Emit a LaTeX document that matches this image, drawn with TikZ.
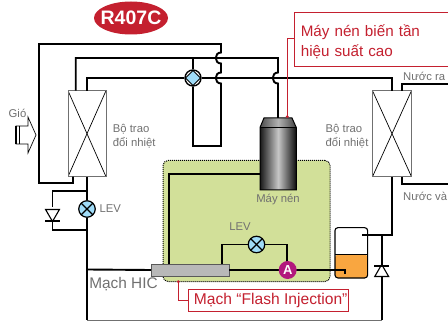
\documentclass[tikz,border=0pt]{standalone}
\usepackage{fontspec}
\setmainfont{Liberation Sans}
\usepackage{xcolor}
\usetikzlibrary{positioning, shapes.geometric, calc, backgrounds}
\definecolor{labelgray}{RGB}{112, 112, 112}
\definecolor{boxred}{RGB}{196, 32, 47}
\definecolor{valveblue}{RGB}{160, 220, 248}
\definecolor{hicgreen}{RGB}{210, 224, 153}
\definecolor{tankorange}{RGB}{249, 166, 64}
\definecolor{pointmag}{RGB}{178, 24, 125}
\tikzset{
    pipe/.style={line width=1.9pt, draw=black, line join=miter},
    hexch/.style={draw=labelgray, line width=0.9pt, minimum width=38pt, minimum height=86pt, inner sep=0pt, outer sep=0pt, path picture={
        \draw[black, line width=0.7pt] (path picture bounding box.north west) -- (path picture bounding box.south east);
        \draw[black, line width=0.7pt] (path picture bounding box.north east) -- (path picture bounding box.south west);
    }},
    lev/.style={circle, draw=black, line width=1.2pt, fill=valveblue, minimum size=16.5pt, inner sep=0pt, path picture={
        \draw[black, line width=1.2pt] (path picture bounding box.north west) -- (path picture bounding box.south east);
        \draw[black, line width=1.2pt] (path picture bounding box.north east) -- (path picture bounding box.south west);
    }},
    fourway/.style={circle, draw=black, line width=1.4pt, fill=white, minimum size=16pt, inner sep=0pt, path picture={
        \draw[black, line width=0.8pt, fill=valveblue] (path picture bounding box.center) ++(-7.5pt,0) -- ++(7.5pt,7.5pt) -- ++(7.5pt,-7.5pt) -- ++(-7.5pt,-7.5pt) -- cycle;
    }},
    checkv/.style={isosceles triangle, isosceles triangle apex angle=60, draw=black, line width=1.1pt, fill=white, minimum height=12pt, inner sep=0pt, outer sep=0pt},
    txt/.style={text=labelgray, font=\fontsize{11.3}{14}\selectfont, inner sep=0pt, align=left},
    callout/.style={draw=boxred, line width=0.9pt, text=boxred, font=\fontsize{15.2}{20}\selectfont, inner sep=0pt, align=left},
    leader/.style={draw=boxred, line width=0.9pt}
}
\begin{document}
\begin{tikzpicture}[x=1pt, y=-1pt]
\useasboundingbox (0,0) rectangle (448,321);

% Background
\node[draw=black, densely dotted, line width=1pt, fill=hicgreen, rounded corners=5pt, minimum width=167pt, minimum height=121pt, inner sep=0pt] (hiczone) at (246.5,221) {};

% Nodes
\node[ellipse, fill=boxred, minimum width=74pt, minimum height=33pt, inner xsep=-4.5pt, inner ysep=0pt, text=white, font=\fontsize{19.5}{19.5}\selectfont\bfseries] (refrigerant) at (131,18) {R407C};
\node[hexch] (hxleft) at (87,133.7) {};
\node[hexch, minimum width=39pt] (hxright) at (392,133.7) {};
\node[fourway] (fourvalve) at (193,78) {};
\node[lev] (levleft) at (87,209) {};
\node[lev] (levhic) at (256.5,244.5) {};
\node[checkv, shape border rotate=270] (checkleft) at (52.5,213.5) {};
\node[checkv, shape border rotate=90] (checkright) at (381.7,272.5) {};
\node[draw=black!65, line width=1pt, fill=black!28, minimum width=78pt, minimum height=12pt, inner sep=0pt, outer sep=0pt] (hicbar) at (190,270) {};

% Compressor
\shade[left color=black!90, right color=black!95, middle color=black!22] (260,127.5) rectangle (296.3,190);
\shade[left color=black!70, right color=black!75, middle color=black!30] (264,118) -- (292,118) -- (296.3,127.5) -- (260,127.5) -- cycle;
\draw[black, line width=1pt] (264,118) -- (292,118) -- (296.3,127.5) -- (296.3,190) -- (260,190) -- (260,127.5) -- cycle;
\draw[black, line width=1pt] (260,127.5) -- (296.3,127.5);
\coordinate (compleft) at (260,174);
\coordinate (comptop) at (278,118);
\coordinate (compdot) at (287.3,116.7);

% Tank
\fill[tankorange, rounded corners=3pt] (335,254.7) -- (335,278) -- (367.7,278) -- (367.7,254.7) -- cycle;
\draw[black, line width=0.8pt] (335,254.7) -- (367.7,254.7);
\node[draw=black, line width=1.1pt, rounded corners=3pt, minimum width=32.7pt, minimum height=50.3pt, inner sep=0pt] (tank) at (351.3,252.8) {};

% Pipes
\draw[pipe] (hxleft.south -| 73,0) -- (73,183) -- (39,183) -- (39,44) -- (221,44) -- (221,52.5)
    .. controls (214,52.5) and (214,63.5) .. (221,63.5) -- (221,72.5)
    .. controls (214,72.5) and (214,83.5) .. (221,83.5) -- (221,146) -- (193,146) -- (fourvalve.south);
\draw[pipe] (75.7,90.7) -- (75.7,58) -- (278,58) -- (278,72.5)
    .. controls (271,72.5) and (271,83.5) .. (278,83.5) -- (comptop);
\draw[pipe] (fourvalve.north) -- (193,58);
\draw[pipe] (87,90.7) -- (87,78) -- (fourvalve.west);
\draw[pipe] (fourvalve.east) -- (391.7,78) -- (391.7,90.7);
\draw[pipe] (402,90.7) -- (402,84) -- (448,84);
\draw[pipe] (402,177) -- (402,184) -- (448,184);
\draw[pipe] (hxleft.south) -- (levleft.north);
\draw[pipe] (levleft.south) -- (87,320);
\draw[pipe] (87,190.7) -- (52.5,190.7) -- (52.5,207);
\draw[pipe] (checkleft.apex) -- (52.5,230) -- (87,230);
\draw[pipe] (87,269.5) -- (hicbar.west);
\draw[pipe] (169.3,264) -- (169.3,174) -- (compleft);
\draw[pipe] (221.7,264) -- (221.7,244.5) -- (levhic.west);
\draw[pipe] (levhic.east) -- (287.3,244.5) -- (287.3,270);
\draw[pipe] (hicbar.east) -- (344.7,270) -- (344.7,274);
\draw[pipe] (391.7,177) -- (391.7,235) -- (361.7,235);
\draw[pipe] (381.7,235) -- (checkright.apex);
\draw[pipe] (checkright.south) -- (381.7,320);
\draw[labelgray, line width=0.9pt] (87,320.3) -- (381.7,320.3);
\draw[line width=1.3pt] (45,221) -- (60,221);
\draw[line width=1.3pt] (374,266) -- (389,266);

% Point A
\node[circle, fill=pointmag, minimum size=18pt, inner sep=0pt, text=white, font=\fontsize{13}{13}\selectfont\bfseries] (pointa) at (287.7,270) {A};

% Air arrow
\draw[black, line width=0.7pt, fill=white] (28,126) -- (28,117) -- (36,135) -- (28,153) -- (28,144) -- (16,144) -- (16,126) -- cycle;
\draw[line width=2pt] (16,126) -- (16,144);
\draw[line width=1pt] (19,126) -- (19,144);

% Labels
\node[txt] (airlabel) at (17.5,113) {Gió};
\node[txt, anchor=north west] (hxlabelleft) at (112.7,124) {Bộ trao\\đổi nhiệt};
\node[txt, anchor=north west] (hxlabelright) at (325.5,124) {Bộ trao\\đổi nhiệt};
\node[txt, anchor=west] (waterout) at (403,76) {Nước ra};
\node[txt, anchor=west] (waterin) at (403,196) {Nước và};
\node[txt, right=3.5pt of levleft] (levleftlabel) {LEV};
\node[txt, above=5pt of levhic, xshift=-16.5pt] (levhiclabel) {LEV};
\node[txt] (complabel) at (278,200) {Máy nén};
\node[text=labelgray, font=\fontsize{15.4}{15.4}\selectfont, inner sep=0pt] (hiclabel) at (123.5,284) {Mạch HIC};

% Callouts
\node[callout, minimum width=154.3pt, minimum height=53.7pt, text width=141pt, anchor=north west, fill=white, font=\fontsize{15.2}{20.5}\selectfont] (inverterbox) at (293.7,12) {\rule{0pt}{17pt}Máy nén biến tần\\hiệu suất cao};
\node[callout, fill=white, minimum width=160pt, minimum height=22.4pt, align=center, font=\fontsize{15.6}{20}\selectfont] (flashbox) at (268.7,300.5) {\hspace*{4pt}Mạch “Flash Injection”};
\fill[boxred] (compdot) circle (1.6pt);
\fill[boxred] (178.3,281.7) circle (1.6pt);
\draw[leader] (inverterbox.west |- 0,38.7) -- (287.3,38.7) -- (compdot);
\draw[leader] (178.3,281.7) -- (178.3,300.5) -- (flashbox.west);

\end{tikzpicture}
\end{document}
